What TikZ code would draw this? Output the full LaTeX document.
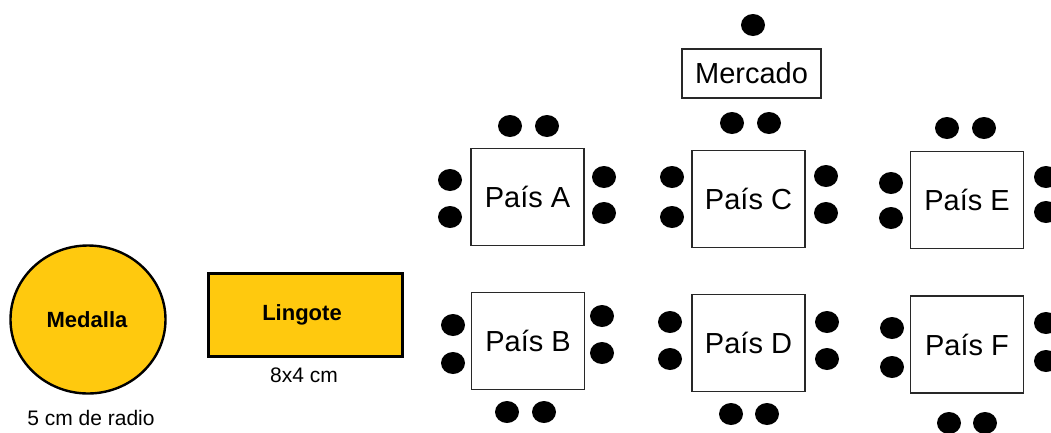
\documentclass[tikz,border=0pt]{standalone}
\usepackage{fontspec}
\setmainfont{Liberation Sans}
\usetikzlibrary{shapes.geometric}
\definecolor{gold}{RGB}{255,201,14}
\definecolor{boxline}{RGB}{40,40,40}
\tikzset{
  dot/.style={ellipse,fill=black,draw=none,minimum width=24pt,minimum height=22pt,inner sep=0pt},
  pais/.style={draw=boxline,line width=1.3pt,fill=white,minimum width=113pt,minimum height=97pt,inner sep=0pt,font=\fontsize{29}{34}\selectfont},
  lbl/.style={inner sep=0pt,font=\fontsize{21}{25}\selectfont},
  boldlbl/.style={inner sep=0pt,font=\fontsize{22}{26}\selectfont\bfseries}
}
\begin{document}
\begin{tikzpicture}[x=1pt,y=-1pt]
\useasboundingbox (0,0) rectangle (1051,432);
\fill[white] (0,0) rectangle (1051,432);
% Medalla
\node[ellipse,draw=black,line width=2.4pt,fill=gold,minimum width=155pt,minimum height=148pt,inner sep=0pt] (medalla) at (88,319.5) {};
\node[boldlbl] (medallatxt) at (87,320) {Medalla};
\node[lbl] (radio) at (91,418) {5 cm de radio};
% Lingote
\node[draw=black,line width=3pt,fill=gold,minimum width=194pt,minimum height=83pt,inner sep=0pt] (lingote) at (305,314.5) {};
\node[boldlbl] (lingotetxt) at (302,315) {Lingote};
\node[lbl] (dim) at (304,375) {8x4 cm};
% Mercado
\node[draw=boxline,line width=1.3pt,minimum width=139pt,minimum height=49pt,inner sep=0pt,font=\fontsize{29}{34}\selectfont] (mercado) at (751.5,73.5) {Mercado};
\node[dot] (m1) at (753,25) {};
% Paises
\node[pais] (A) at (527.5,197) {País A};
\node[pais] (B) at (528,341) {País B};
\node[pais] (C) at (748.5,199) {País C};
\node[pais] (D) at (748.5,343) {País D};
\node[pais] (E) at (967,200) {País E};
\node[pais] (F) at (967,344.5) {País F};
% dots A
\node[dot] (a1) at (510,126) {};
\node[dot] (a2) at (547,126) {};
\node[dot] (a3) at (450,180) {};
\node[dot] (a4) at (450,217) {};
\node[dot] (a5) at (604,177) {};
\node[dot] (a6) at (604,213) {};
% dots B
\node[dot] (b1) at (453,325) {};
\node[dot] (b2) at (453,363) {};
\node[dot] (b3) at (602,316) {};
\node[dot] (b4) at (602,353) {};
\node[dot] (b5) at (507,412) {};
\node[dot] (b6) at (544,412) {};
% dots C
\node[dot] (c1) at (732,123) {};
\node[dot] (c2) at (769,123) {};
\node[dot] (c3) at (672,177) {};
\node[dot] (c4) at (672,217) {};
\node[dot] (c5) at (826,176) {};
\node[dot] (c6) at (826,213) {};
% dots D
\node[dot] (d1) at (670,322) {};
\node[dot] (d2) at (670,359) {};
\node[dot] (d3) at (827,322) {};
\node[dot] (d4) at (827,359) {};
\node[dot] (d5) at (731,414) {};
\node[dot] (d6) at (767,414) {};
% dots E
\node[dot] (e1) at (947,128) {};
\node[dot] (e2) at (984,128) {};
\node[dot] (e3) at (891,183) {};
\node[dot] (e4) at (891,218) {};
\node[dot] (e5) at (1046,177) {};
\node[dot] (e6) at (1046,212) {};
% dots F
\node[dot] (f1) at (892,328) {};
\node[dot] (f2) at (892,367) {};
\node[dot] (f3) at (1046,323) {};
\node[dot] (f4) at (1046,361) {};
\node[dot] (f5) at (949,423) {};
\node[dot] (f6) at (985,423) {};
\end{tikzpicture}
\end{document}
